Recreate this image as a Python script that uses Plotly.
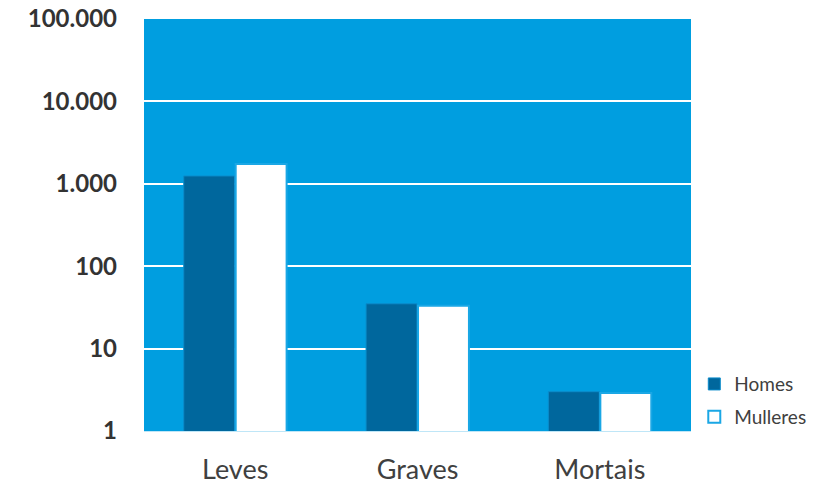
import plotly.graph_objects as go

categories = ["Leves", "Graves", "Mortais"]
homes = [1245, 35, 3.0]
mulleres = [1740, 33, 2.9]
tick_vals = [1, 10, 100, 1000, 10000, 100000]
tick_text = ["1", "10", "100", "1.000", "10.000", "100.000"]

fig = go.Figure()
fig.add_trace(go.Bar(name="Homes", x=categories, y=homes, legendgroup="h",
                     marker=dict(color="#00679D", line=dict(color="#0A8CCB", width=1))))
fig.add_trace(go.Bar(name="Mulleres", x=categories, y=mulleres, legendgroup="m",
                     marker=dict(color="#FFFFFF", line=dict(color="#1AA7E5", width=2))))

fig.update_layout(
    width=814, height=476,
    margin=dict(l=136, r=131, t=11, b=53),
    paper_bgcolor="white", plot_bgcolor="#009EE0",
    barmode="group", bargap=0.43, bargroupgap=0.02,
    font=dict(family="Lato, Carlito, sans-serif", color="#404040"),
    showlegend=True,
    legend=dict(x=1.006, y=0.16, xanchor="left", yanchor="top",
                font=dict(size=19, color="#404040"), traceorder="grouped",
                tracegroupgap=5, bgcolor="rgba(0,0,0,0)"),
)
fig.update_yaxes(type="log", range=[0, 5], tickvals=tick_vals, ticktext=tick_text,
                 showgrid=True, gridcolor="white", gridwidth=2,
                 tickfont=dict(size=24, color="#333333", weight="bold"),
                 ticklabelstandoff=26, ticklabeloverflow="allow",
                 zeroline=False, showline=False, automargin=False)
fig.update_xaxes(tickfont=dict(size=27, color="#404040"), showline=True,
                 linecolor="#BFE6F7", linewidth=1, ticks="", ticklabelstandoff=15,
                 ticklabeloverflow="allow", automargin=False)

fig.write_html("out.html")
